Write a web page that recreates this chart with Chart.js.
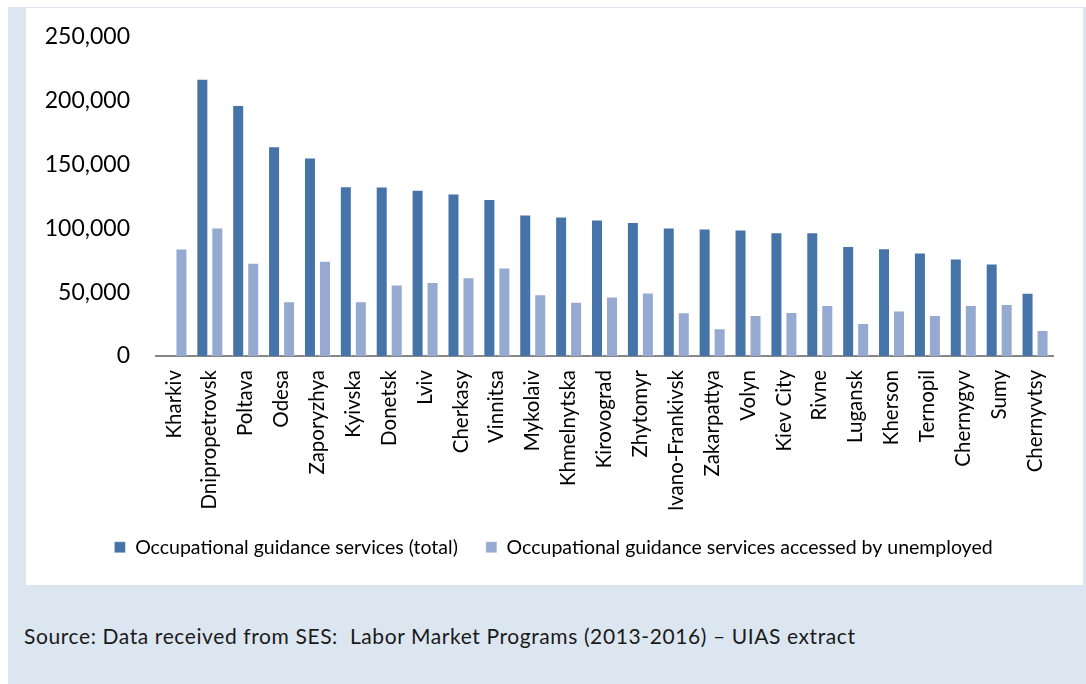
<!DOCTYPE html>
<html>
<head>
<meta charset="utf-8">
<script src="https://cdn.jsdelivr.net/npm/chart.js@4"></script>
<style>
  html, body { margin: 0; padding: 0; background: #ffffff; }
  body { width: 1086px; height: 684px; position: relative; overflow: hidden; }
  #frame { position: absolute; left: 8px; top: 7px; width: 1078px; height: 677px; background: #dce6f1; }
  #panel { position: absolute; left: 26px; top: 8px; width: 1057px; height: 577px; background: #ffffff; }
  #chart { display: block; }
  #source { position: absolute; left: 24px; top: 623px; font-family: Lato, "Open Sans", sans-serif;
            font-size: 21px; letter-spacing: 0.6px; color: #1a1a1a; white-space: pre; }
</style>
</head>
<body>
<div id="frame"></div>
<div id="panel"><canvas id="chart" width="1057" height="577"></canvas></div>
<div id="source">Source: Data received from SES:  Labor Market Programs (2013-2016) – UIAS extract</div>
<script>
// Oblasts / regions on the category axis
const categories = [
  "Kharkiv", "Dnipropetrovsk", "Poltava", "Odesa", "Zaporyzhya", "Kyivska", "Donetsk", "Lviv",
  "Cherkasy", "Vinnitsa", "Mykolaiv", "Khmelnytska", "Kirovograd", "Zhytomyr", "Ivano-Frankivsk",
  "Zakarpattya", "Volyn", "Kiev City", "Rivne", "Lugansk", "Kherson", "Ternopil", "Chernygyv",
  "Sumy", "Chernyvtsy"
];

// Occupational guidance services (total)
const totalServices = [
  null, 217300, 196700, 164300, 155500, 133000, 132800, 130200,
  127300, 123100, 110900, 109300, 106900, 105100, 100700,
  99900, 99100, 97000, 97000, 86300, 84500, 81100, 76400,
  72500, 49600
];

// Occupational guidance services accessed by unemployed
const unemployedServices = [
  84300, 100700, 73000, 43000, 74600, 43000, 56100, 57900,
  61800, 69400, 48300, 42500, 46700, 49800, 34200,
  21700, 32100, 34400, 39900, 25800, 35700, 32100, 39900,
  40700, 20300
];

// Value axis ticks
const yTickValues = [0, 50000, 100000, 150000, 200000, 250000];

const seriesNames = [
  "Occupational guidance services (total)",
  "Occupational guidance services accessed by unemployed"
];

const FONT = "Lato, 'Open Sans', sans-serif";
const LEGEND_GAP = 28;

// The legend counts a trailing gap after the last item; move it back to true centre.
const centreLegend = {
  id: "centreLegend",
  afterLayout(chart) {
    const lg = chart.legend;
    if (!lg) return;
    lg.left += LEGEND_GAP / 2;
    lg.right += LEGEND_GAP / 2;
  }
};

new Chart(document.getElementById("chart"), {
  type: "bar",
  data: {
    labels: categories,
    datasets: [
      {
        label: seriesNames[0],
        data: totalServices,
        backgroundColor: "#4673a8",
        borderColor: "rgba(255,255,255,0.35)",
        borderWidth: 1,
        categoryPercentage: 0.836,
        barPercentage: 0.8
      },
      {
        label: seriesNames[1],
        data: unemployedServices,
        backgroundColor: "#95a9d1",
        borderColor: "rgba(255,255,255,0.35)",
        borderWidth: 1,
        categoryPercentage: 0.836,
        barPercentage: 0.8
      }
    ]
  },
  plugins: [centreLegend],
  options: {
    responsive: false,
    animation: false,
    devicePixelRatio: 1,
    layout: { padding: { left: 0, right: 30, top: 29, bottom: 18 } },
    plugins: {
      tooltip: { enabled: false },
      legend: {
        position: "bottom",
        labels: {
          font: { family: FONT, size: 19.5 },
          color: "#000000",
          boxWidth: 11,
          boxHeight: 11,
          padding: LEGEND_GAP
        }
      }
    },
    scales: {
      x: {
        grid: { display: false, drawTicks: false },
        border: { display: true, color: "#868686", width: 2 },
        ticks: {
          minRotation: 90,
          maxRotation: 90,
          autoSkip: false,
          padding: 14,
          color: "#000000",
          font: { family: FONT, size: 20.5 }
        },
        afterFit(scale) { scale.height = 153.5; }
      },
      y: {
        min: 0,
        max: 250000,
        // tick marks stay hidden (grid off) but their length spaces labels from the plot
        grid: { display: false, drawTicks: true, tickLength: 20 },
        border: { display: false },
        afterBuildTicks(scale) { scale.ticks = yTickValues.map(v => ({ value: v })); },
        ticks: {
          padding: 6,
          color: "#000000",
          font: { family: FONT, size: 23 },
          callback: v => Number(v).toLocaleString("en-US")
        },
        afterFit(scale) { scale.width = 130; }
      }
    }
  }
});
</script>
</body>
</html>
